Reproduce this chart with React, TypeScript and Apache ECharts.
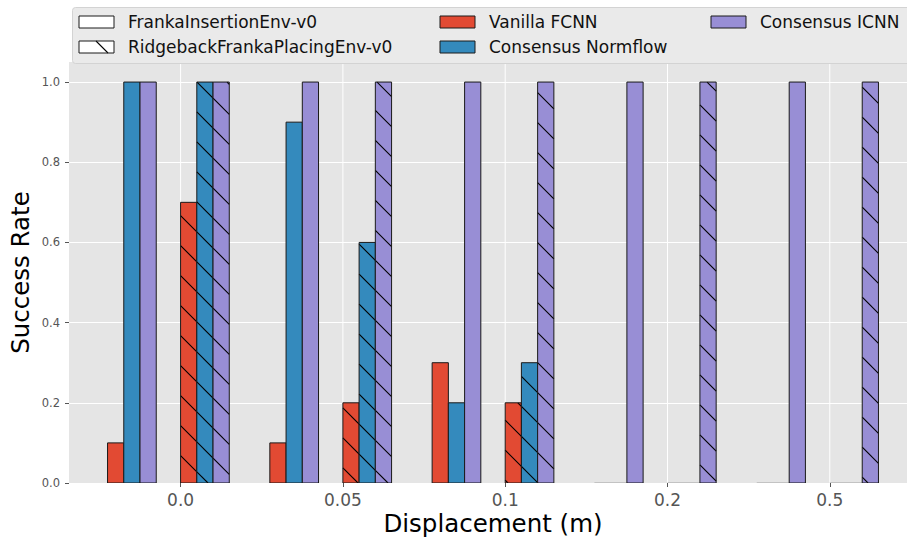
import React, { useEffect, useRef } from 'react';
import * as echarts from 'echarts';

// ---- data ----
const categories = ['0.0', '0.05', '0.1', '0.2', '0.5'];
const envNames = ['FrankaInsertionEnv-v0', 'RidgebackFrankaPlacingEnv-v0'];
const methodNames = ['Vanilla FCNN', 'Consensus Normflow', 'Consensus ICNN'];
const insertionFCNN = [0.1, 0.1, 0.3, 0, 0];
const insertionNormflow = [1.0, 0.9, 0.2, 0, 0];
const insertionICNN = [1.0, 1.0, 1.0, 1.0, 1.0];
const placingFCNN = [0.7, 0.2, 0.2, 0, 0];
const placingNormflow = [1.0, 0.6, 0.3, 0, 0];
const placingICNN = [1.0, 1.0, 1.0, 1.0, 1.0];
const yTicks = [0, 0.2, 0.4, 0.6, 0.8, 1.0];

// ---- styling / layout ----
const methodColors = ['#E24A33', '#348ABD', '#988ED5'];
const FONT = '"DejaVu Sans", "Noto Sans", sans-serif';
const BAR_W = 0.1;
const ENV_OFFSETS = [-0.4, 0.05];
const HATCH_STEP = 30;
const HATCH_PHASE = 5;

function hatchSegments(L: number, T: number, R: number, B: number) {
  const segs: number[][] = [];
  const cMin = T - R;
  const cMax = B - L;
  let c = Math.ceil((cMin - HATCH_PHASE) / HATCH_STEP) * HATCH_STEP + HATCH_PHASE;
  for (; c <= cMax; c += HATCH_STEP) {
    const xa = Math.max(L, T - c);
    const xb = Math.min(R, B - c);
    if (xb - xa > 0.3) segs.push([xa, xa + c, xb, xb + c]);
  }
  return segs;
}

function buildBarData() {
  const envs = [
    [insertionFCNN, insertionNormflow, insertionICNN],
    [placingFCNN, placingNormflow, placingICNN],
  ];
  const out: number[][] = [];
  envs.forEach((env, e) =>
    env.forEach((vals, m) =>
      vals.forEach((v, i) => out.push([i + ENV_OFFSETS[e] + m * BAR_W, v, m, e]))
    )
  );
  return out;
}

function buildLegend() {
  const colX = [79, 440, 711];
  const rowY = [22, 47];
  const hw = 35;
  const hh = 12;
  const items: any[] = [
    { label: envNames[0], fill: '#ffffff', hatch: false },
    { label: envNames[1], fill: '#ffffff', hatch: true },
    { label: methodNames[0], fill: methodColors[0], hatch: false },
    { label: methodNames[1], fill: methodColors[1], hatch: false },
    { label: methodNames[2], fill: methodColors[2], hatch: false },
  ];
  const els: any[] = [
    {
      type: 'rect',
      shape: { x: 72.5, y: 7.5, width: 860, height: 56, r: 3 },
      style: { fill: '#EAEAEA', stroke: '#D3D3D3', lineWidth: 1 },
      z: 100,
    },
  ];
  items.forEach((it, k) => {
    const col = Math.floor(k / 2);
    const row = k % 2;
    const x = colX[col];
    const cy = rowY[row];
    const L = x, T = cy - hh / 2, R = x + hw, B = cy + hh / 2;
    els.push({
      type: 'rect',
      shape: { x: L, y: T, width: hw, height: hh },
      style: { fill: it.fill, stroke: 'none' },
      z: 101,
    });
    if (it.hatch) {
      hatchSegments(L, T, R, B).forEach((s) =>
        els.push({
          type: 'line',
          shape: { x1: s[0], y1: s[1], x2: s[2], y2: s[3] },
          style: { stroke: '#000', lineWidth: 1.1 },
          z: 102,
        })
      );
    }
    els.push({
      type: 'rect',
      shape: { x: L, y: T, width: hw, height: hh },
      style: { fill: 'none', stroke: '#1a1a1a', lineWidth: 1 },
      z: 103,
    });
    els.push({
      type: 'text',
      x: x + hw + 14,
      y: cy,
      style: {
        text: it.label,
        fill: '#111',
        fontSize: 17,
        fontFamily: FONT,
        verticalAlign: 'middle',
        align: 'left',
      },
      z: 103,
    });
  });
  return els;
}

export default function App() {
  const ref = useRef<HTMLDivElement>(null);
  useEffect(() => {
    if (!ref.current) return;
    const chart = echarts.init(ref.current, undefined, { renderer: 'svg' });
    const barData = buildBarData();
    const catIdx = categories.map((_, i) => i);
    chart.setOption({
      animation: false,
      backgroundColor: '#ffffff',
      grid: {
        left: 69,
        top: 62,
        bottom: 55,
        right: -10,
        containLabel: false,
        outerBoundsMode: 'none',
        show: true,
        backgroundColor: '#E5E5E5',
        borderWidth: 0,
      },
      xAxis: {
        type: 'value',
        min: -0.6875,
        max: 4.5375,
        axisLine: { show: false, onZero: false },
        splitLine: { show: false },
        axisTick: {
          show: true,
          customValues: catIdx,
          length: 4,
          lineStyle: { color: '#555555', width: 1 },
        },
        axisLabel: {
          customValues: catIdx,
          formatter: (v: number) => categories[Math.round(v)] ?? '',
          color: '#555555',
          fontSize: 17,
          fontFamily: FONT,
          margin: 8,
        },
        name: 'Displacement (m)',
        nameLocation: 'middle',
        nameMoveOverlap: false,
        nameGap: 28,
        nameTextStyle: { fontSize: 24.5, lineHeight: 24, fontFamily: FONT, color: '#000' },
      },
      yAxis: {
        type: 'value',
        min: 0,
        max: 1.05,
        interval: 0.2,
        axisLine: { show: false, onZero: false },
        splitLine: { show: true, lineStyle: { color: '#ffffff', width: 1 } },
        axisTick: {
          show: true,
          customValues: yTicks,
          length: 4,
          lineStyle: { color: '#555555', width: 1 },
        },
        axisLabel: {
          customValues: yTicks,
          formatter: (v: number) => v.toFixed(1),
          color: '#555555',
          fontSize: 11.5,
          fontFamily: FONT,
          margin: 9,
        },
        name: 'Success Rate',
        nameLocation: 'middle',
        nameMoveOverlap: false,
        nameGap: 36,
        nameTextStyle: { fontSize: 24.5, fontFamily: FONT, color: '#000' },
      },
      series: [
        {
          type: 'custom',
          name: 'vgrid',
          silent: true,
          z: 1,
          data: catIdx.map((i) => [i]),
          encode: { x: 0 },
          renderItem: (_p: any, api: any) => {
            const x = api.value(0);
            const a = api.coord([x, 0]);
            const b = api.coord([x, 1.05]);
            return {
              type: 'line',
              shape: { x1: a[0], y1: a[1], x2: b[0], y2: b[1] },
              style: { stroke: '#ffffff', lineWidth: 1 },
            };
          },
        },
        {
          type: 'custom',
          name: 'bars',
          z: 2,
          clip: true,
          data: barData,
          encode: { x: 0, y: 1 },
          renderItem: (_p: any, api: any) => {
            const xc = api.value(0);
            const v = api.value(1);
            const m = Math.round(api.value(2));
            const e = Math.round(api.value(3));
            const p0 = api.coord([xc - BAR_W / 2, v]);
            const p1 = api.coord([xc + BAR_W / 2, 0]);
            const L = p0[0], R = p1[0], T = p0[1], B = p1[1];
            if (B - T < 0.5) {
              return {
                type: 'line',
                shape: { x1: L, y1: B, x2: R, y2: B },
                style: { stroke: 'rgba(0,0,0,0.3)', lineWidth: 1 },
              };
            }
            const children: any[] = [
              {
                type: 'rect',
                shape: { x: L, y: T, width: R - L, height: B - T },
                style: { fill: methodColors[m], stroke: 'none' },
              },
            ];
            if (e === 1) {
              hatchSegments(L, T, R, B).forEach((s) =>
                children.push({
                  type: 'line',
                  shape: { x1: s[0], y1: s[1], x2: s[2], y2: s[3] },
                  style: { stroke: '#000', lineWidth: 1.1 },
                })
              );
            }
            children.push({
              type: 'rect',
              shape: { x: L, y: T, width: R - L, height: B - T },
              style: { fill: 'none', stroke: '#1a1a1a', lineWidth: 1 },
            });
            return { type: 'group', children };
          },
        },
      ],
      graphic: buildLegend(),
    });
    return () => chart.dispose();
  }, []);
  return (
    <div
      ref={ref}
      style={{ position: 'fixed', left: 0, top: 0, width: 907, height: 538, background: '#fff' }}
    />
  );
}
